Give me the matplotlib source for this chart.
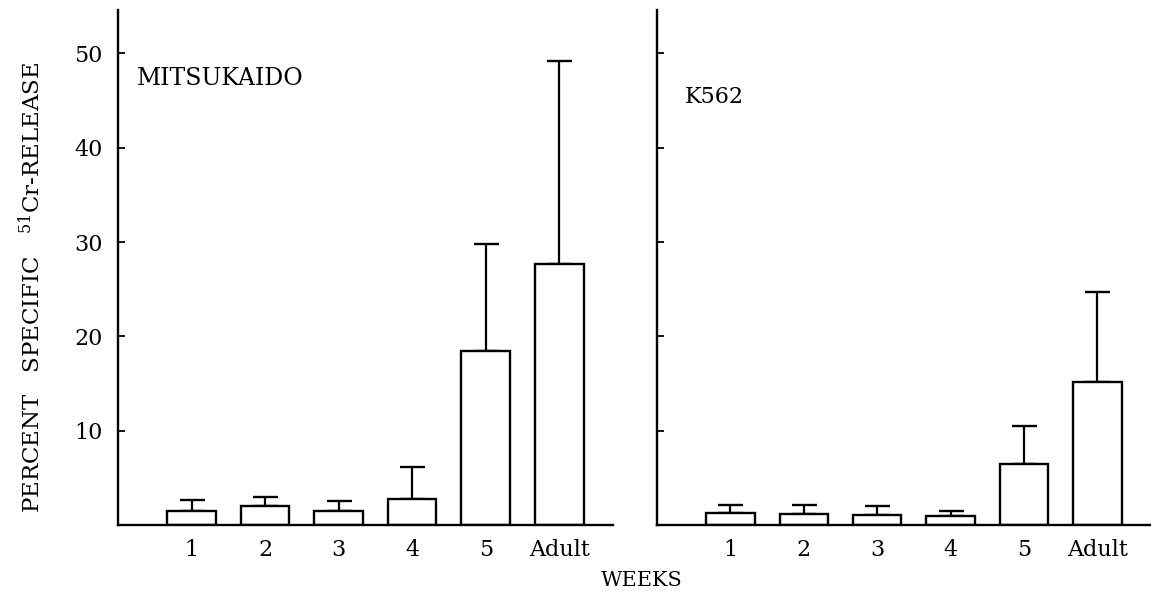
import matplotlib
matplotlib.use("Agg")
import matplotlib.pyplot as plt
import numpy as np

plt.rcParams['font.family'] = ['DejaVu Serif']
plt.rcParams['mathtext.fontset'] = 'dejavuserif'

categories = ["1", "2", "3", "4", "5", "Adult"]
mitsukaido_mean = [1.5, 2.0, 1.5, 2.8, 18.4, 27.7]
mitsukaido_upper = [2.6, 3.0, 2.5, 6.1, 29.8, 49.2]
k562_mean = [1.25, 1.15, 1.1, 0.95, 6.5, 15.2]
k562_upper = [2.1, 2.1, 2.05, 1.5, 10.5, 24.7]
yticks = [10, 20, 30, 40, 50]

fig = plt.figure(figsize=(11.51, 5.96), dpi=100)
ax1 = fig.add_axes([118/1151, 71/596, 495/1151, 515/596])
ax2 = fig.add_axes([657/1151, 71/596, 494/1151, 515/596])

x = np.arange(1, len(categories) + 1)
for ax, mean, upper, name, ny, nx, fs in [(ax1, mitsukaido_mean, mitsukaido_upper, "MITSUKAIDO", 47.3, 0.25, 17),
                                           (ax2, k562_mean, k562_upper, "K562", 45.4, 0.38, 16)]:
    err = np.array(upper) - np.array(mean)
    ax.bar(x, mean, width=0.66, color='white', edgecolor='black', linewidth=1.7, zorder=2)
    ax.errorbar(x, mean, yerr=[np.zeros_like(err), err], fmt='none', ecolor='black',
                elinewidth=1.6, capsize=9, capthick=1.7, zorder=1)
    ax.set_xlim(0, 6.73)
    ax.set_ylim(0, 54.6)
    ax.set_xticks(x)
    ax.set_xticklabels(categories, fontsize=16)
    ax.set_yticks(yticks)
    ax.tick_params(axis='x', length=0, pad=10)
    ax.tick_params(axis='y', direction='in', length=5, width=1.3, pad=11, labelsize=16)
    for s in ['top', 'right']:
        ax.spines[s].set_visible(False)
    for s in ['left', 'bottom']:
        ax.spines[s].set_linewidth(1.7)
    ax.text(nx, ny, name, fontsize=fs, va='center', ha='left')

ax2.set_yticklabels([])

fig.text(32/1151, 1 - 287/596, r"PERCENT   SPECIFIC   $^{51}$Cr-RELEASE", rotation=90,
         fontsize=16.5, ha='center', va='center')
fig.text(642/1151, 1 - 581/596, "WEEKS", fontsize=15, ha='center', va='center')

fig.savefig("out.png", dpi=100)
